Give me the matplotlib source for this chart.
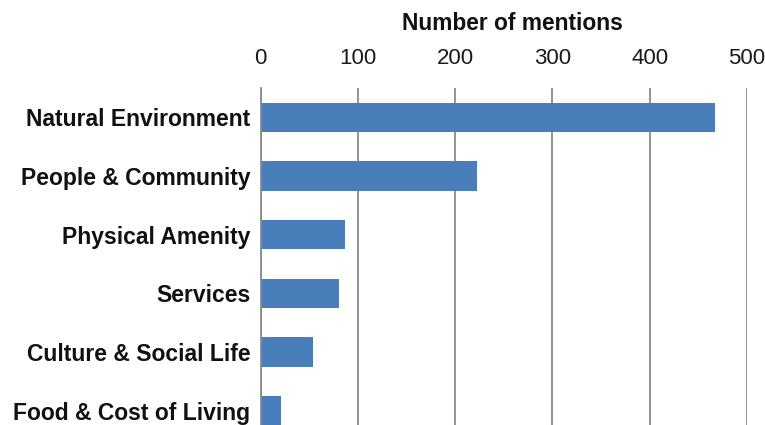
import matplotlib

matplotlib.use("Agg")
import matplotlib.pyplot as plt

categories = [
    "Natural Environment",
    "People & Community",
    "Physical Amenity",
    "Services",
    "Culture & Social Life",
    "Food & Cost of Living",
]
mentions = [467, 222, 87, 80, 54, 21]
x_ticks = [0, 100, 200, 300, 400, 500]

plt.rcParams["font.family"] = ["Liberation Sans", "DejaVu Sans"]

figure = plt.figure(figsize=(7.65, 4.25), dpi=100)
axis = figure.add_axes((0.3408, -0.0353, 0.6357, 0.8282))

positions = list(range(len(categories)))
axis.barh(positions, mentions, height=0.5, color="#4a7ebb", zorder=2)

axis.set_ylim(len(categories) - 0.5, -0.5)
axis.set_xlim(x_ticks[0], x_ticks[-1])
axis.set_yticks(positions)
axis.set_yticklabels(categories, fontsize=16.5, fontweight="bold")
axis.set_xticks(x_ticks)
axis.set_xticklabels([str(t) for t in x_ticks], fontsize=16)
axis.xaxis.tick_top()
axis.tick_params(axis="x", length=0, pad=14, colors="#1a1a1a")
axis.tick_params(axis="y", length=0, pad=7.5, colors="#111111")

axis.grid(axis="x", color="#8a8a8a", linewidth=1.3, zorder=0)
axis.set_axisbelow(True)
for side in ("top", "right", "bottom"):
    axis.spines[side].set_visible(False)
axis.spines["left"].set_color("#8a8a8a")
axis.spines["left"].set_linewidth(1.3)

figure.text(
    512 / 765,
    1 - 23 / 425,
    "Number of mentions",
    ha="center",
    va="center",
    fontsize=16.4,
    fontweight="bold",
    color="#111111",
)

figure.savefig("out.png", dpi=100)
plt.close(figure)
